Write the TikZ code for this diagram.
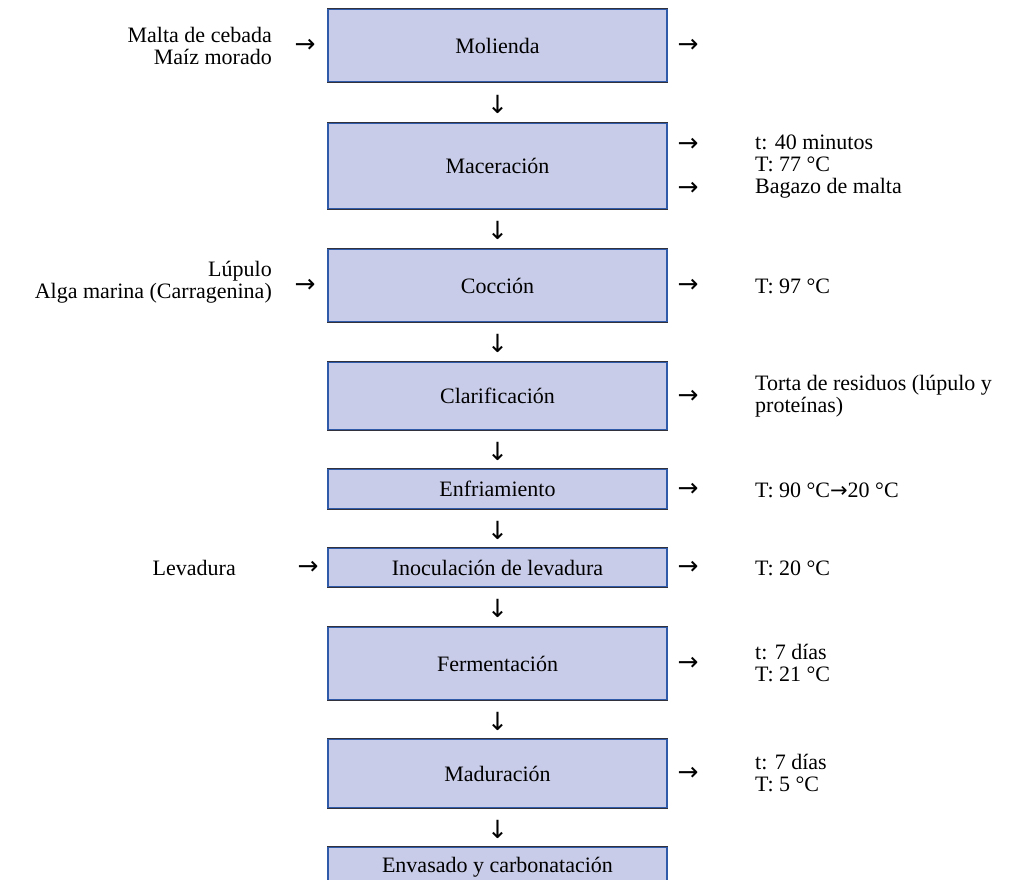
\documentclass[tikz,border=0pt]{standalone}
\usepackage{fontspec}
\setmainfont{Liberation Serif}
\newfontfamily\arrowfont{DejaVu Sans}
\definecolor{boxfill}{RGB}{201,204,232}
\definecolor{boxedge}{RGB}{47,90,170}
\definecolor{boxdark}{RGB}{50,50,60}
\begin{document}
\begin{tikzpicture}[x=1pt,y=-1pt,
  every node/.style={font=\fontsize{22}{22}\selectfont, inner sep=0pt},
  procbox/.style={fill=boxfill, draw=boxedge, line width=1.3pt, minimum width=339pt, anchor=center},
  intext/.style={anchor=east, align=right},
  outtext/.style={anchor=west, align=left},
  glyph/.style={anchor=center, font=\arrowfont\fontsize{25}{25}\selectfont},
]
\useasboundingbox (0,0) rectangle (1025,879);
\clip (0,0) rectangle (1025,879);

% process boxes
\node[procbox, minimum height=73pt] (mol) at (497.5,45.5) {Molienda};
\node[procbox, minimum height=86pt] (mac) at (497.5,166) {Maceración};
\node[procbox, minimum height=73pt] (coc) at (497.5,285.5) {Cocción};
\node[procbox, minimum height=68pt] (cla) at (497.5,396) {Clarificación};
\node[procbox, minimum height=40pt] (enf) at (497.5,489) {Enfriamiento};
\node[procbox, minimum height=39pt] (ino) at (497.5,567.5) {Inoculación de levadura};
\node[procbox, minimum height=73pt] (fer) at (497.5,663.5) {Fermentación};
\node[procbox, minimum height=69pt] (mad) at (497.5,773.5) {Maduración};
\node[procbox, minimum height=40pt] (env) at (497.5,867) {Envasado y carbonatación};

\foreach \b in {mol,mac,coc,cla,enf,ino,fer,mad,env}{
  \draw[boxdark, line width=1.3pt] (\b.north west) -- (\b.north east);
}
\foreach \b in {mol,mac,coc,cla,enf,ino,fer,mad}{
  \draw[boxdark, line width=1.3pt] (\b.south west) -- (\b.south east);
}

% down arrows
\node[glyph] (d1) at (497.5,104) {↓};
\node[glyph] (d2) at (497.5,230) {↓};
\node[glyph] (d3) at (497.5,343) {↓};
\node[glyph] (d4) at (497.5,451) {↓};
\node[glyph] (d5) at (497.5,530) {↓};
\node[glyph] (d6) at (497.5,608) {↓};
\node[glyph] (d7) at (497.5,721) {↓};
\node[glyph] (d8) at (497.5,829) {↓};

% inputs
\node[intext] (in1) at (272,45.5) {Malta de cebada\\Maíz morado};
\node[glyph] (la1) at (305,45.5) {→};
\node[intext] (in2) at (272,282) {Lúpulo\\Alga marina (Carragenina)};
\node[glyph] (la2) at (305,286) {→};
\node[intext] (in3) at (236,568) {Levadura};
\node[glyph] (la3) at (308,568) {→};

% right arrows
\node[glyph] (ra1) at (688,45.5) {→};
\node[glyph] (ra2) at (688,145) {→};
\node[glyph] (ra3) at (688,189) {→};
\node[glyph] (ra4) at (688,286) {→};
\node[glyph] (ra5) at (688,397) {→};
\node[glyph] (ra6) at (688,490) {→};
\node[glyph] (ra7) at (688,568) {→};
\node[glyph] (ra8) at (688,664) {→};
\node[glyph] (ra9) at (688,774) {→};

% outputs
\node[outtext] (o2) at (755,167) {t: 40 minutos\\T: 77 °C\\Bagazo de malta};
\node[outtext] (o4) at (755,286) {T: 97 °C};
\node[outtext] (o5) at (755,396) {Torta de residuos (lúpulo y\\proteínas)};
\node[outtext] (o6) at (755,490) {T: 90 °C{\arrowfont\fontsize{21}{21}\selectfont →}20 °C};
\node[outtext] (o7) at (755,568) {T: 20 °C};
\node[outtext] (o8) at (755,663) {t: 7 días\\T: 21 °C};
\node[outtext] (o9) at (755,773) {t: 7 días\\T: 5 °C};
\end{tikzpicture}
\end{document}
